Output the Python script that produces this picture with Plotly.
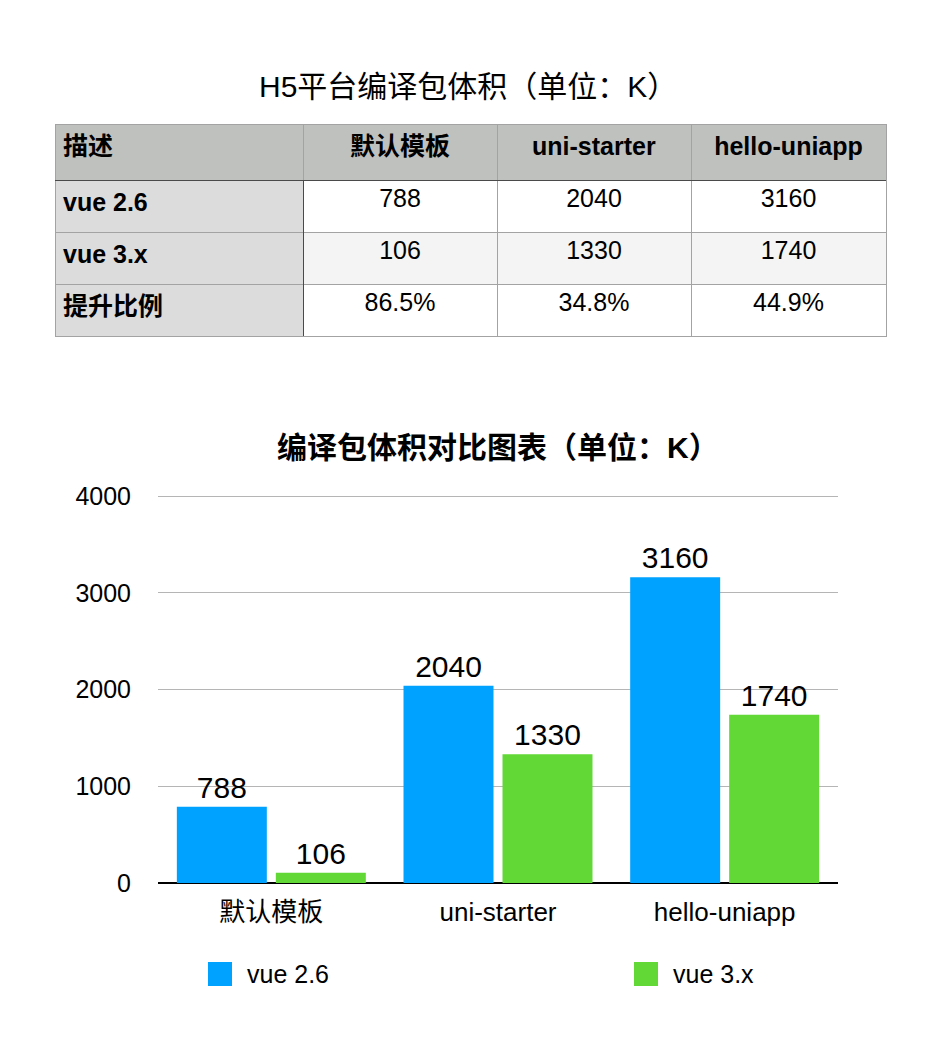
import plotly.graph_objects as go

# ---- data ----
categories = ["默认模板", "uni-starter", "hello-uniapp"]
series_names = ["vue 2.6", "vue 3.x"]
vue26 = [788, 2040, 3160]
vue3x = [106, 1330, 1740]
improve = ["86.5%", "34.8%", "44.9%"]
table_header = ["描述"] + categories
row_labels = ["vue 2.6", "vue 3.x", "提升比例"]
y_ticks = [0, 1000, 2000, 3000, 4000]

title_table = "H5平台编译包体积（单位：K）"
title_chart = "编译包体积对比图表（单位：K）"

W, H = 942, 1062
FONT = "Liberation Sans, Helvetica, Arial, Noto Sans CJK SC, sans-serif"
BLUE = "#00a2ff"
GREEN = "#61d836"

def py(px):
    return 1 - px / H

def pxx(px):
    return px / W

fig = go.Figure()

# ---- table ----
col_vals = [[f"<b>{r}</b>" for r in row_labels]]
for i in range(len(categories)):
    col_vals.append([str(vue26[i]), str(vue3x[i]), improve[i]])

row_fill = ["#ffffff", "#f4f4f4", "#ffffff"]
fig.add_trace(go.Table(
    domain=dict(x=[pxx(55), pxx(886)], y=[py(340), py(124)]),
    columnwidth=[248, 194, 194, 195],
    header=dict(
        values=[f"<b>{h}</b>" for h in table_header],
        fill_color="#bfc1bf",
        line=dict(color="#a3a3a3", width=1),
        align=["left", "center", "center", "center"],
        font=dict(family=FONT, size=25, color="#000000"),
        height=56,
    ),
    cells=dict(
        values=col_vals,
        fill_color=[["#dcdcdc"] * 3, row_fill, row_fill, row_fill],
        line=dict(color="#a3a3a3", width=1),
        align=["left", "center", "center", "center"],
        font=dict(family=FONT, size=25, color="#000000"),
        height=52,
    ),
))

# ---- bars ----
fig.add_trace(go.Bar(
    x=categories, y=vue26, name=series_names[0],
    marker=dict(color=BLUE, line=dict(width=0)),
    text=[str(v) for v in vue26], textposition="outside",
    textfont=dict(family=FONT, size=30, color="#000000"),
    cliponaxis=False, showlegend=False,
))
fig.add_trace(go.Bar(
    x=categories, y=vue3x, name=series_names[1],
    marker=dict(color=GREEN, line=dict(width=0)),
    text=[str(v) for v in vue3x], textposition="outside",
    textfont=dict(family=FONT, size=30, color="#000000"),
    cliponaxis=False, showlegend=False,
))

# ---- legend (drawn) and table accent lines ----
shapes = [
    dict(type="line", xref="paper", yref="paper",
         x0=pxx(55), x1=pxx(886), y0=py(180.5), y1=py(180.5),
         line=dict(color="#4a4a4a", width=1)),
    dict(type="line", xref="paper", yref="paper",
         x0=pxx(303.5), x1=pxx(303.5), y0=py(180.5), y1=py(336),
         line=dict(color="#4a4a4a", width=1)),
]
annotations = []
legend_items = [(series_names[0], BLUE, 208), (series_names[1], GREEN, 634)]
for name, color, x0 in legend_items:
    shapes.append(dict(type="rect", xref="paper", yref="paper",
                       x0=pxx(x0), x1=pxx(x0 + 24), y0=py(986), y1=py(962),
                       fillcolor=color, line=dict(width=0)))
    annotations.append(dict(text=name, xref="paper", yref="paper",
                            x=pxx(x0 + 37), y=py(974), xanchor="left", yanchor="middle",
                            showarrow=False, font=dict(family=FONT, size=25, color="#000000")))

annotations.append(dict(text=title_table, xref="paper", yref="paper",
                        x=pxx(468), y=py(87), xanchor="center", yanchor="middle",
                        showarrow=False, font=dict(family=FONT, size=30, color="#000000")))
annotations.append(dict(text=f"<b>{title_chart}</b>", xref="paper", yref="paper",
                        x=pxx(498), y=py(447), xanchor="center", yanchor="middle",
                        showarrow=False, font=dict(family=FONT, size=30, color="#000000")))

# y range padded slightly so the 4000 gridline is drawn; domain keeps 96.75 px per 1000
Y_MAX = 4060
px_per_unit = (883 - 496) / 4000
top_px = 883 - Y_MAX * px_per_unit

fig.update_layout(
    width=W, height=H, autosize=False,
    margin=dict(l=0, r=0, t=0, b=0, pad=0, autoexpand=False),
    paper_bgcolor="#ffffff", plot_bgcolor="#ffffff",
    barmode="group", bargap=0.1266, bargroupgap=0.0909,
    font=dict(family=FONT, size=24, color="#000000"),
    shapes=shapes, annotations=annotations,
    xaxis=dict(domain=[pxx(158), pxx(838)], showgrid=False, showline=False,
               automargin=False,
               ticks="", tickfont=dict(size=26), ticklabelstandoff=11),
    yaxis=dict(domain=[py(883), py(top_px)], range=[0, Y_MAX], tickvals=y_ticks,
               automargin=False,
               showgrid=True, gridcolor="#b5b5b5", gridwidth=1,
               zeroline=True, zerolinecolor="#000000", zerolinewidth=2,
               showline=False, ticks="", tickfont=dict(size=25),
               ticklabelstandoff=26),
)

fig.write_html("out.html")
